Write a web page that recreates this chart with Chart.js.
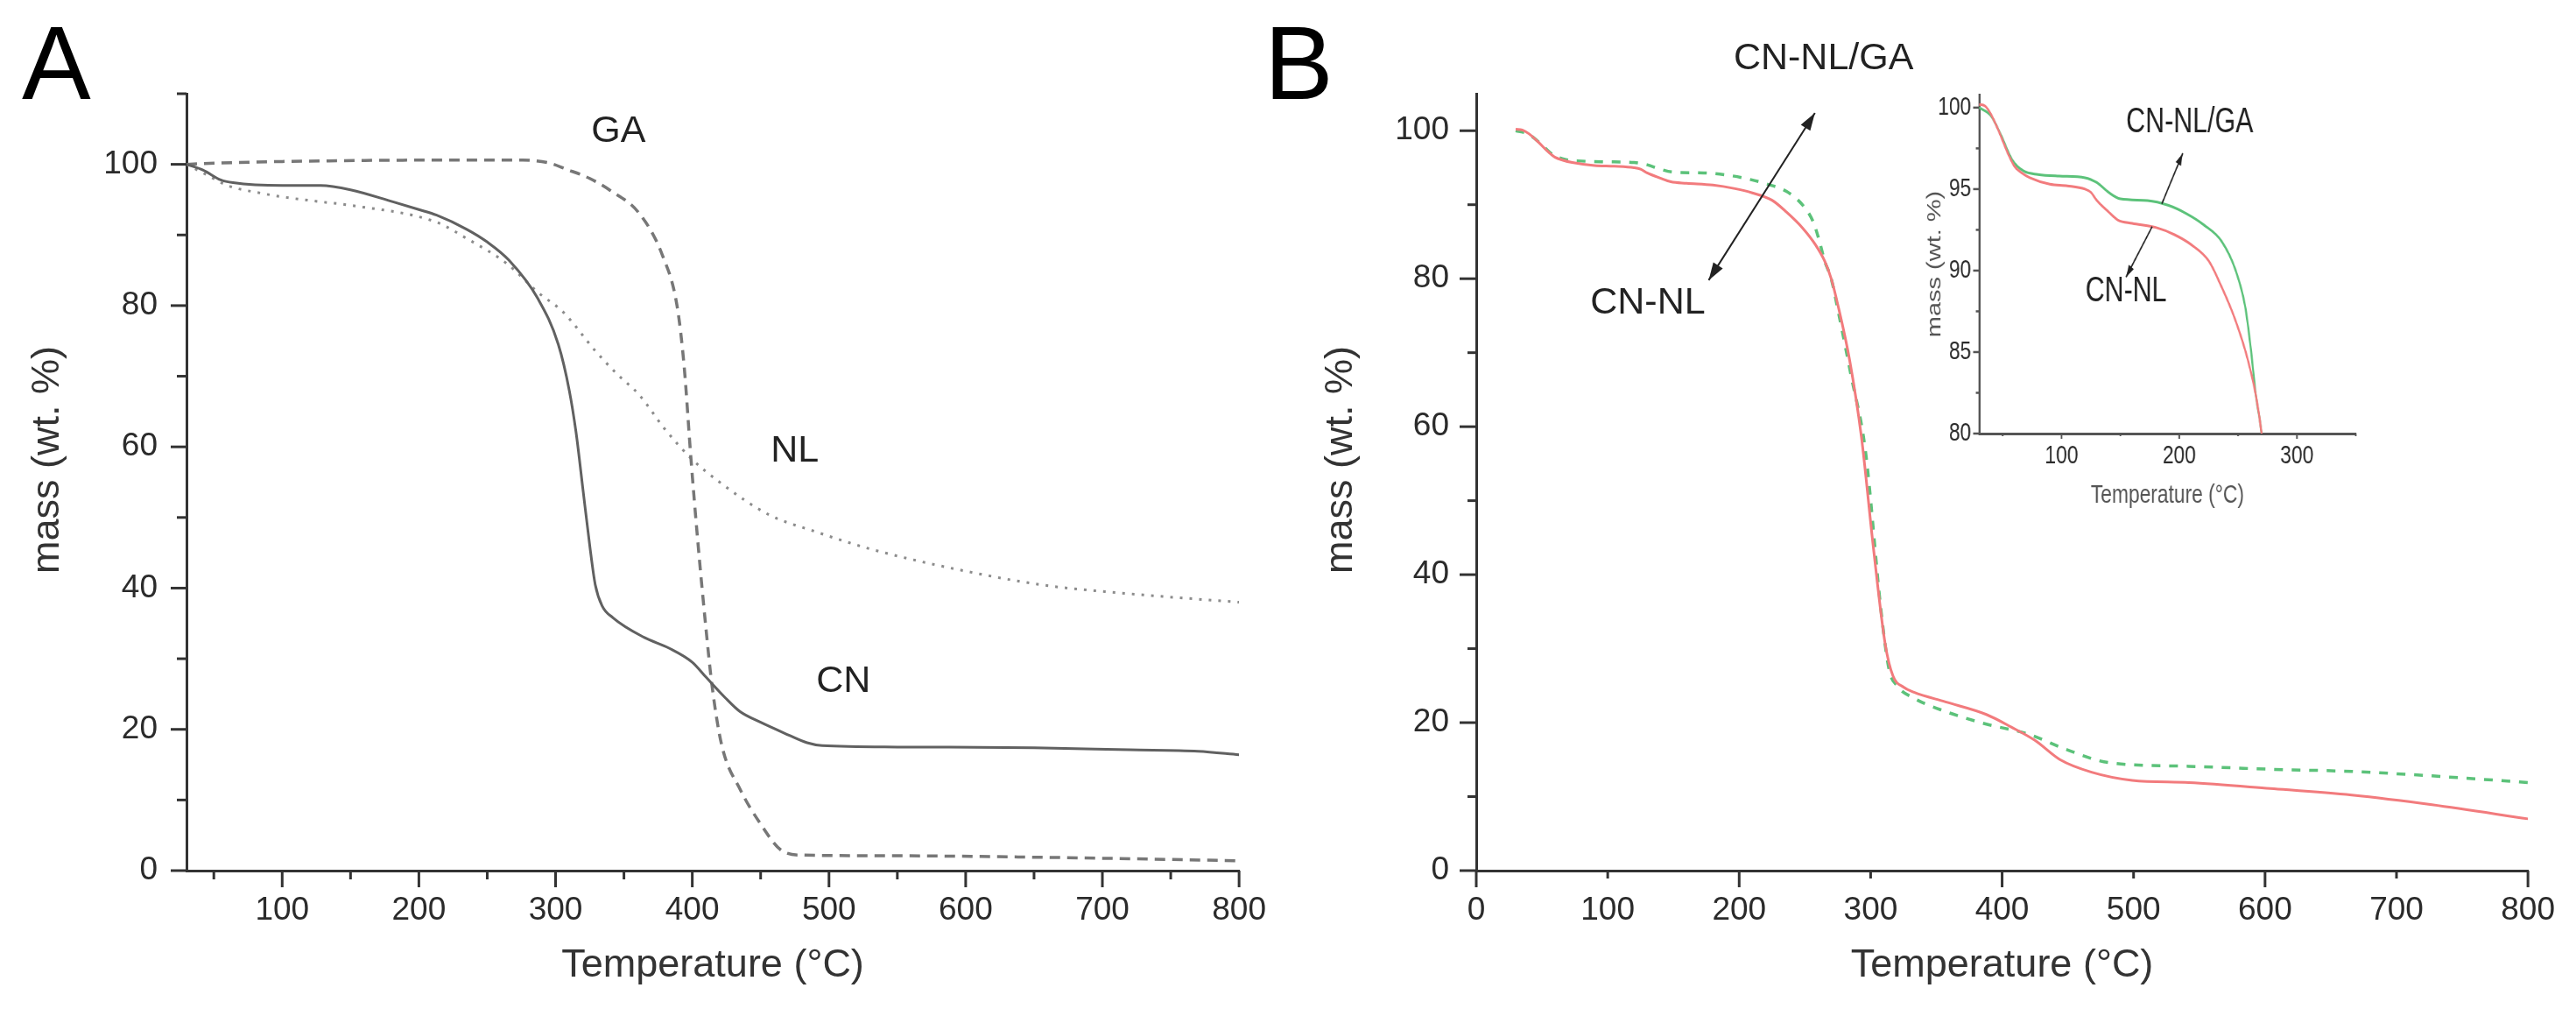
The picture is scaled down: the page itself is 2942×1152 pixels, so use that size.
<!DOCTYPE html>
<html>
<head>
<meta charset="utf-8">
<title>TGA curves</title>
<script src="https://cdn.jsdelivr.net/npm/chart.js@4.4.1/dist/chart.umd.min.js"></script>
<style>
  html, body { margin: 0; padding: 0; background: #fff; }
  #page { position: relative; width: 2942px; height: 1152px; overflow: hidden; background: #fff; }
  canvas { position: absolute; top: 0; }
  #chartA { left: 0; }
  #chartB { left: 1440px; }
  /* the inset is squeezed sideways in the original figure */
  #chartInset { left: 2160px; top: 60px; transform: scaleX(0.76); transform-origin: 0 0; }
</style>
</head>
<body>
<div id="page">
  <canvas id="chartA" width="1470" height="1152"></canvas>
  <canvas id="chartB" width="1502" height="1152"></canvas>
  <canvas id="chartInset" width="760" height="560"></canvas>
</div>
<script>
/* ---- Panel A data (temperature °C / mass wt.%) ---- */
const tempCN = [30, 42, 55, 64, 100, 128, 150, 181, 200, 213, 235, 250, 266, 287, 302, 310, 315, 320, 325, 329, 334, 342, 365, 383, 400, 410, 424, 435, 450, 467, 484, 495, 550, 650, 720, 770, 800];
const massCN = [100, 99.2, 97.8, 97.4, 97.0, 97.0, 96.4, 94.7, 93.6, 92.8, 90.8, 89.0, 86.4, 81.0, 74.5, 68.0, 62.0, 54.0, 46.0, 40.5, 37.5, 35.8, 33.0, 31.5, 29.5, 27.4, 24.5, 22.5, 21.0, 19.5, 18.1, 17.7, 17.5, 17.4, 17.1, 16.9, 16.4];

const tempGA = [30, 55, 100, 213, 276, 295, 308, 325, 340, 361, 378, 389, 394, 399, 404, 410, 414.5, 421.5, 435, 450, 465, 480, 550, 650, 800];
const massGA = [100, 100.2, 100.4, 100.6, 100.6, 100.2, 99.3, 98.0, 96.3, 93.1, 87.2, 79.8, 71.5, 58.4, 46.7, 34.3, 26.1, 17.8, 11.5, 6.6, 2.9, 2.2, 2.1, 1.9, 1.4];

const tempNL = [30, 45, 60, 85, 100, 128, 150, 213, 235, 264, 287, 306, 329, 345, 361, 380, 399, 420, 456, 490, 531, 595, 658, 720, 800];
const massNL = [100, 98.5, 97.0, 95.9, 95.4, 94.7, 94.2, 91.8, 89.5, 86.0, 81.9, 79.0, 73.6, 70.3, 67.4, 62.5, 58.4, 55.0, 50.4, 48.0, 45.5, 42.6, 40.4, 39.2, 38.0];

/* ---- Panel B data (also used by the inset) ---- */
const tempCNNL = [30, 35, 40, 47, 55, 60, 66, 73, 90, 105, 120, 125, 130, 140, 148, 160, 180, 196, 210, 225, 236, 248, 258, 265, 270, 275, 284, 293, 302, 311, 317, 325, 333, 357, 388, 407, 425, 444, 468, 499, 542, 604, 666, 727, 800];
const massCNNL = [100.2, 100.1, 99.6, 98.5, 97.1, 96.4, 96.0, 95.7, 95.3, 95.2, 95.0, 94.8, 94.3, 93.6, 93.1, 92.9, 92.65, 92.2, 91.6, 90.6, 89.0, 86.9, 84.6, 82.4, 80.0, 76.5, 69.0, 58.6, 43.8, 30.7, 26.3, 24.8, 24.1, 22.8, 21.1, 19.4, 17.6, 15.0, 13.3, 12.2, 11.9, 11.1, 10.2, 8.9, 7.0];

const tempCNNLGA = [30, 40, 48, 58, 68, 80, 98, 120, 130, 140, 150, 173, 191, 206, 221, 236, 248, 256, 261, 265, 270, 276, 285, 296, 308, 314, 320, 333, 357, 388, 419, 450, 481, 542, 604, 666, 727, 800];
const massCNNLGA = [100.0, 99.5, 98.4, 96.8, 96.1, 95.9, 95.8, 95.7, 95.4, 94.8, 94.4, 94.3, 94.0, 93.5, 92.8, 91.8, 90.0, 87.8, 85.1, 82.4, 80.0, 75.0, 67.0, 56.8, 35.0, 27.2, 25.0, 23.3, 21.5, 19.8, 18.5, 16.3, 14.6, 14.1, 13.7, 13.4, 12.8, 11.9];

/* ---- Tick values ---- */
const xLabelsA = [100, 200, 300, 400, 500, 600, 700, 800];
const xMinorA  = [50, 150, 250, 350, 450, 550, 650, 750];
const yLabelsA = [0, 20, 40, 60, 80, 100];
const yMinorA  = [10, 30, 50, 70, 90, 110];

const xLabelsB = [0, 100, 200, 300, 400, 500, 600, 700, 800];
const xMajorB  = [0, 200, 400, 600, 800];
const xMinorB  = [100, 300, 500, 700];
const yLabelsB = [0, 20, 40, 60, 80, 100];
const yMinorB  = [10, 30, 50, 70, 90];

const xLabelsIn = [100, 200, 300];
const xMinorIn  = [50, 150, 250, 350];
const yLabelsIn = [80, 85, 90, 95, 100];
const yMinorIn  = [82.5, 87.5, 92.5, 97.5];

const FONT   = "'Liberation Sans', Arial, Helvetica, sans-serif";
const INK    = '#2b2b2b';
const RED    = '#f27b7d';
const GREEN  = '#5cc27a';

/* ---- Helpers ---- */
function pairs(xs, ys) {
  return xs.map((x, i) => ({ x: x, y: ys[i] }));
}

function fixedTicks(values) {
  return scale => { scale.ticks = values.map(v => ({ value: v })); };
}

function drawHead(ctx, tx, ty, fx, fy, size) {
  const ang = Math.atan2(ty - fy, tx - fx);
  const bx = tx - size * Math.cos(ang);
  const by = ty - size * Math.sin(ang);
  const w = size * 0.32;
  ctx.beginPath();
  ctx.moveTo(tx, ty);
  ctx.lineTo(bx + w * Math.sin(ang), by - w * Math.cos(ang));
  ctx.lineTo(bx - w * Math.sin(ang), by + w * Math.cos(ang));
  ctx.closePath();
  ctx.fill();
}

/* ---- Plugin: major / minor tick marks, outward ---- */
const tickMarks = {
  id: 'tickMarks',
  afterDraw(chart, args, o) {
    const { ctx, chartArea } = chart;
    const xs = chart.scales.x, ys = chart.scales.y;
    ctx.save();
    ctx.strokeStyle = o.color;
    ctx.lineWidth = o.width;
    const markX = (v, len) => {
      const p = xs.getPixelForValue(v);
      ctx.beginPath(); ctx.moveTo(p, chartArea.bottom); ctx.lineTo(p, chartArea.bottom + len); ctx.stroke();
    };
    const markY = (v, len) => {
      const p = ys.getPixelForValue(v);
      ctx.beginPath(); ctx.moveTo(chartArea.left, p); ctx.lineTo(chartArea.left - len, p); ctx.stroke();
    };
    o.xMajor.forEach(v => markX(v, o.xMajorLen));
    o.xMinor.forEach(v => markX(v, o.xMinorLen));
    o.yMajor.forEach(v => markY(v, o.yMajorLen));
    o.yMinor.forEach(v => markY(v, o.yMinorLen));
    ctx.restore();
  }
};

/* ---- Plugin: curve labels, arrows, y title, panel letter ---- */
const annotations = {
  id: 'annotations',
  afterDraw(chart, args, o) {
    const { ctx, chartArea } = chart;
    const xs = chart.scales.x, ys = chart.scales.y;
    ctx.save();
    ctx.fillStyle = o.color;
    ctx.strokeStyle = o.color;

    ctx.font = o.font;
    ctx.textAlign = 'center';
    ctx.textBaseline = 'middle';
    (o.labels || []).forEach(l => {
      ctx.fillText(l.text, xs.getPixelForValue(l.x), ys.getPixelForValue(l.y));
    });

    ctx.lineWidth = o.arrowWidth;
    (o.arrows || []).forEach(a => {
      const x1 = xs.getPixelForValue(a.from[0]), y1 = ys.getPixelForValue(a.from[1]);
      const x2 = xs.getPixelForValue(a.to[0]),   y2 = ys.getPixelForValue(a.to[1]);
      ctx.beginPath(); ctx.moveTo(x1, y1); ctx.lineTo(x2, y2); ctx.stroke();
      drawHead(ctx, x2, y2, x1, y1, o.headSize);
      if (a.both) drawHead(ctx, x1, y1, x2, y2, o.headSize);
    });

    if (o.yTitle) {
      const t = o.yTitle;
      const cy = t.centerY !== undefined ? chartArea.top + t.centerY : (chartArea.top + chartArea.bottom) / 2;
      ctx.save();
      ctx.translate(chartArea.left - t.offset, cy);
      ctx.rotate(-Math.PI / 2);
      ctx.font = t.font;
      ctx.fillStyle = t.color;
      ctx.fillText(t.text, 0, 0);
      ctx.restore();
    }

    if (o.letter) {
      ctx.font = o.letter.font;
      ctx.fillStyle = '#000';
      ctx.textAlign = 'left';
      ctx.textBaseline = 'alphabetic';
      ctx.fillText(o.letter.text, o.letter.x, o.letter.y);
    }
    ctx.restore();
  }
};

/* ---- Chart builder ---- */
function buildChart(canvasId, cfg) {
  return new Chart(document.getElementById(canvasId), {
    type: 'line',
    data: { datasets: cfg.datasets },
    options: {
      responsive: false,
      animation: false,
      devicePixelRatio: 1,
      events: [],
      layout: { padding: cfg.padding },
      elements: {
        point: { radius: 0 },
        line: { cubicInterpolationMode: 'monotone', borderCapStyle: 'butt', fill: false }
      },
      plugins: {
        legend: { display: false },
        tooltip: { enabled: false },
        tickMarks: cfg.tickMarks,
        annotations: cfg.annotations
      },
      scales: {
        x: {
          type: 'linear',
          min: cfg.x.min,
          max: cfg.x.max,
          afterBuildTicks: fixedTicks(cfg.x.labels),
          afterFit: s => { s.height = cfg.x.height; },
          grid: { display: false, drawTicks: false, tickLength: 0 },
          border: { display: true, color: cfg.axisColor, width: cfg.axisWidth },
          ticks: { color: INK, font: { family: FONT, size: cfg.tickSize }, padding: cfg.x.pad, maxRotation: 0, autoSkip: false },
          title: {
            display: true, text: 'Temperature (°C)', color: cfg.titleColor,
            font: { family: FONT, size: cfg.titleSize }, padding: { top: 0, bottom: cfg.x.titlePad }
          }
        },
        y: {
          min: cfg.y.min,
          max: cfg.y.max,
          afterBuildTicks: fixedTicks(cfg.y.labels),
          afterFit: s => { s.width = cfg.y.width; },
          grid: { display: false, drawTicks: false, tickLength: 0 },
          border: { display: true, color: cfg.axisColor, width: cfg.axisWidth },
          ticks: { color: INK, font: { family: FONT, size: cfg.tickSize }, padding: cfg.y.pad, autoSkip: false },
          title: { display: false }
        }
      }
    },
    plugins: [tickMarks, annotations]
  });
}

/* ---- Panel A ---- */
buildChart('chartA', {
  padding: { left: 0, top: 107, right: 47, bottom: 0 },
  axisColor: '#333', axisWidth: 3,
  tickSize: 37, titleSize: 45, titleColor: '#333',
  x: { min: 30, max: 800, labels: xLabelsA, height: 158, pad: 24, titlePad: 22 },
  y: { min: 0, max: 110, labels: yLabelsA, width: 213, pad: 33 },
  datasets: [
    { data: pairs(tempCN, massCN), borderColor: '#616161', borderWidth: 3 },
    { data: pairs(tempGA, massGA), borderColor: '#777777', borderWidth: 3.5, borderDash: [12, 8] },
    { data: pairs(tempNL, massNL), borderColor: '#8c8c8c', borderWidth: 3, borderDash: [3, 8] }
  ],
  tickMarks: {
    color: '#333', width: 3,
    xMajor: xLabelsA, xMinor: xMinorA, xMajorLen: 19, xMinorLen: 10,
    yMajor: yLabelsA, yMinor: yMinorA, yMajorLen: 18, yMinorLen: 11
  },
  annotations: {
    font: '43px ' + FONT, color: '#222', arrowWidth: 2, headSize: 18,
    labels: [
      { text: 'GA', x: 346, y: 104.6 },
      { text: 'NL', x: 475, y: 59.4 },
      { text: 'CN', x: 510.6, y: 26.8 }
    ],
    yTitle: { text: 'mass (wt. %)', offset: 158, centerY: 418, font: '45px ' + FONT, color: '#333' },
    letter: { text: 'A', x: 25, y: 113, font: '118px ' + FONT }
  }
});

/* ---- Panel B ---- */
buildChart('chartB', {
  padding: { left: 0, top: 107, right: 48, bottom: 0 },
  axisColor: '#333', axisWidth: 3,
  tickSize: 37, titleSize: 45, titleColor: '#333',
  x: { min: 0, max: 800, labels: xLabelsB, height: 158, pad: 24, titlePad: 22 },
  y: { min: 0, max: 105, labels: yLabelsB, width: 246, pad: 31 },
  datasets: [
    { data: pairs(tempCNNL, massCNNL), borderColor: RED, borderWidth: 3 },
    { data: pairs(tempCNNLGA, massCNNLGA), borderColor: GREEN, borderWidth: 3.5, borderDash: [10, 10] }
  ],
  tickMarks: {
    color: '#333', width: 3,
    xMajor: xMajorB, xMinor: xMinorB, xMajorLen: 19, xMinorLen: 9,
    yMajor: yLabelsB, yMinor: yMinorB, yMajorLen: 19, yMinorLen: 10
  },
  annotations: {
    font: '43px ' + FONT, color: '#222', arrowWidth: 2, headSize: 20,
    labels: [
      { text: 'CN-NL/GA', x: 264.2, y: 109.7 },
      { text: 'CN-NL', x: 130.5, y: 76.7 }
    ],
    arrows: [ { from: [176.8, 79.8], to: [257.6, 102.4], both: true } ],
    yTitle: { text: 'mass (wt. %)', offset: 154, centerY: 418, font: '45px ' + FONT, color: '#333' },
    letter: { text: 'B', x: 4, y: 113, font: '118px ' + FONT }
  }
});

/* ---- Inset of panel B (30–350 °C) ---- */
buildChart('chartInset', {
  padding: { left: 0, top: 48, right: 62, bottom: 0 },
  axisColor: '#555', axisWidth: 3,
  tickSize: 30, titleSize: 30, titleColor: '#555',
  x: { min: 30, max: 350, labels: xLabelsIn, height: 125, pad: 8, titlePad: 36 },
  y: { min: 80, max: 100.8, labels: yLabelsIn, width: 132, pad: 12 },
  datasets: [
    { data: pairs(tempCNNL, massCNNL), borderColor: RED, borderWidth: 3 },
    { data: pairs(tempCNNLGA, massCNNLGA), borderColor: GREEN, borderWidth: 3 }
  ],
  tickMarks: {
    color: '#555', width: 2.5,
    xMajor: xLabelsIn, xMinor: xMinorIn, xMajorLen: 6, xMinorLen: 3,
    yMajor: yLabelsIn, yMinor: yMinorIn, yMajorLen: 9, yMinorLen: 5
  },
  annotations: {
    font: '40px ' + FONT, color: '#222', arrowWidth: 2, headSize: 14,
    labels: [
      { text: 'CN-NL/GA', x: 208.9, y: 99.1 },
      { text: 'CN-NL', x: 154.8, y: 88.7 }
    ],
    arrows: [
      { from: [185.2, 94.1], to: [203, 97.2] },
      { from: [177, 92.7], to: [154.8, 89.6] }
    ],
    yTitle: { text: 'mass (wt. %)', offset: 66, font: '29px ' + FONT, color: '#555' }
  }
});
</script>
</body>
</html>
